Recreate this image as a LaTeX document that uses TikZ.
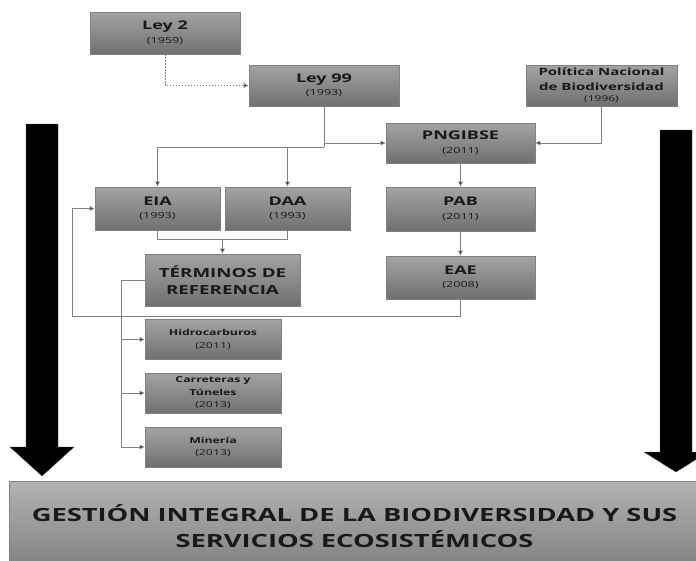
\documentclass[tikz,border=0pt]{standalone}
\usepackage{fontspec}
\setmainfont[FakeStretch=1.5]{Open Sans}
\usetikzlibrary{arrows.meta}

\tikzset{
    law/.style={rectangle, draw=black!50, line width=0.6pt, top color=black!36, bottom color=black!56,
        text=black!90, align=center, inner sep=0pt},
    sub/.style={law, minimum width=136pt, minimum height=40pt, font=\bfseries\fontsize{8.2}{12.5}\selectfont},
    link/.style={draw=black!50, line width=0.7pt},
    arr/.style={link, -{Latex[length=5pt,width=5pt,fill=black!85]}},
    bigarrow/.style={fill=black, draw=black!70, line width=0.4pt}
}
\newcommand{\lawtext}[2]{\bfseries\fontsize{12}{14}\selectfont #1\\[1.5pt]\mdseries\fontsize{8.4}{10}\selectfont (#2)}
\newcommand{\yr}[1]{\mdseries (#1)}

\begin{document}
\begin{tikzpicture}[x=1pt, y=-1pt]
            \useasboundingbox (0,0) rectangle (696,560);
            \clip (0,0) rectangle (696,560);

            % Big arrows
            \draw[bigarrow] (26,124) -- (58,124) -- (58,447) -- (74,447) -- (42,476) -- (10,447) -- (26,447) -- cycle;
            \draw[bigarrow] (660,130) -- (692,130) -- (692,452) -- (708,452) -- (676,472) -- (644,452) -- (660,452) -- cycle;

            % Nodes
            \node[law, minimum width=150pt, minimum height=42pt] (ley2) at (165,33) {\lawtext{Ley 2}{1959}};
            \node[law, minimum width=150pt, minimum height=41pt] (ley99) at (324,85.5) {\lawtext{Ley 99}{1993}};
            \node[law, minimum width=151pt, minimum height=41pt, font=\bfseries\fontsize{10}{15}\selectfont] (politica) at (601.5,85.5) {Política Nacional\\de Biodiversidad\\[-4pt]\fontsize{8}{9}\selectfont\yr{1996}};
            \node[law, minimum width=149pt, minimum height=40pt] (pngibse) at (460.5,143) {\lawtext{PNGIBSE}{2011}};
            \node[law, minimum width=125pt, minimum height=43pt] (eia) at (157.5,208.5) {\lawtext{EIA}{1993}};
            \node[law, minimum width=125pt, minimum height=43pt] (daa) at (287.5,208.5) {\lawtext{DAA}{1993}};
            \node[law, minimum width=149pt, minimum height=44pt] (pab) at (460.5,209) {\lawtext{PAB}{2011}};
            \node[law, minimum width=155pt, minimum height=52pt, font=\bfseries\fontsize{12.5}{17}\selectfont] (terminos) at (222.5,280) {TÉRMINOS DE\\REFERENCIA};
            \node[law, minimum width=149pt, minimum height=43pt] (eae) at (460.5,277.5) {\lawtext{EAE}{2008}};
            \node[sub] (hidro) at (213,339.5) {Hidrocarburos\\\yr{2011}};
            \node[sub] (carre) at (213,393) {Carreteras y\\Túneles\\\yr{2013}};
            \node[sub] (mineria) at (213,447) {Minería\\\yr{2013}};
            \node[law, top color=black!30, bottom color=black!50, minimum width=691pt, minimum height=90pt,
                font=\bfseries\fontsize{18.2}{26}\selectfont] (gestion) at (354.5,526) {GESTIÓN INTEGRAL DE LA BIODIVERSIDAD Y SUS\\SERVICIOS ECOSISTÉMICOS};

            % Edges
            \draw[arr, dash pattern=on 1.5pt off 1.5pt] (ley2.south) |- (ley99.west);
            \draw[link] (ley99.south) -- ++(0,41) coordinate (fork);
            \draw[arr] (fork) -| (eia.north);
            \draw[arr] (fork) -| (daa.north);
            \draw[arr] (ley99.south |- pngibse.west) -- (pngibse.west);
            \draw[arr] (politica.south) |- (pngibse.east);
            \draw[arr] (pngibse) -- (pab);
            \draw[arr] (pab) -- (eae);
            \draw[link] (eia.south) -- ++(0,9.5) coordinate (join) -| (daa.south);
            \draw[arr] (join -| terminos.north) -- (terminos.north);
            \coordinate (back) at (72,316);
            \draw[arr] (eae.south) |- (back) |- (eia.west);
            \draw[link] (terminos.west) -- ++(-23,0) coordinate (rail);
            \foreach \n in {hidro,carre,mineria} {
                \draw[arr] (rail) |- (\n.west);
            }
        \end{tikzpicture}
\end{document}
